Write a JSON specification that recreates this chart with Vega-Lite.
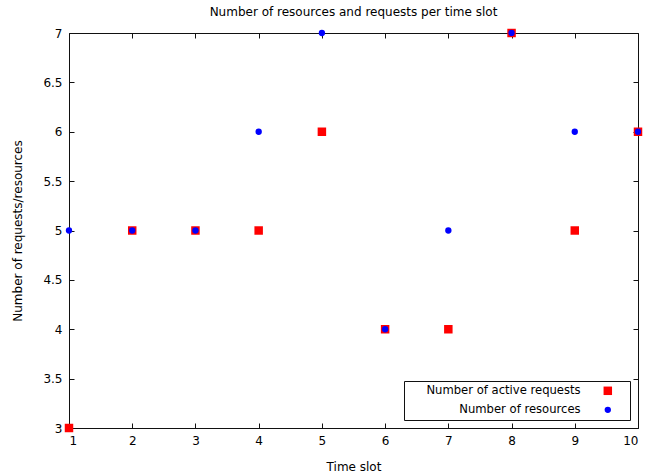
{
  "$schema": "https://vega.github.io/schema/vega-lite/v6.json",
  "autosize": "none",
  "padding": {"left": 69, "top": 33, "right": 23, "bottom": 46},
  "width": 569,
  "height": 395,
  "title": {"text": "Number of resources and requests per time slot", "font": "DejaVu Sans", "fontSize": 12, "fontWeight": "normal", "color": "#000", "anchor": "middle", "offset": 8},
  "config": {
    "view": {"stroke": "#111", "strokeWidth": 1},
    "font": "DejaVu Sans",
    "axis": {"grid": false, "domain": false, "tickColor": "#111", "tickSize": -5, "labelColor": "#000", "labelFont": "DejaVu Sans", "labelFontSize": 12, "titleFont": "DejaVu Sans", "titleFontSize": 12, "titleFontWeight": "normal", "titleColor": "#000"}
  },
  "data": {"values": [
    {"t": 1, "series": "Number of active requests", "v": 3},
    {"t": 2, "series": "Number of active requests", "v": 5},
    {"t": 3, "series": "Number of active requests", "v": 5},
    {"t": 4, "series": "Number of active requests", "v": 5},
    {"t": 5, "series": "Number of active requests", "v": 6},
    {"t": 6, "series": "Number of active requests", "v": 4},
    {"t": 7, "series": "Number of active requests", "v": 4},
    {"t": 8, "series": "Number of active requests", "v": 7},
    {"t": 9, "series": "Number of active requests", "v": 5},
    {"t": 10, "series": "Number of active requests", "v": 6},
    {"t": 1, "series": "Number of resources", "v": 5},
    {"t": 2, "series": "Number of resources", "v": 5},
    {"t": 3, "series": "Number of resources", "v": 5},
    {"t": 4, "series": "Number of resources", "v": 6},
    {"t": 5, "series": "Number of resources", "v": 7},
    {"t": 6, "series": "Number of resources", "v": 4},
    {"t": 7, "series": "Number of resources", "v": 5},
    {"t": 8, "series": "Number of resources", "v": 7},
    {"t": 9, "series": "Number of resources", "v": 6},
    {"t": 10, "series": "Number of resources", "v": 6}
  ]},
  "layer": [
    {
      "mark": {"type": "point", "filled": true, "opacity": 1, "clip": false},
      "encoding": {
        "x": {"field": "t", "type": "quantitative", "scale": {"domain": [1, 10], "nice": false, "zero": false}, "axis": {"values": [1,2,3,4,5,6,7,8,9,10], "title": "Time slot", "labelPadding": 12, "titlePadding": 15}},
        "y": {"field": "v", "type": "quantitative", "scale": {"domain": [3, 7], "nice": false, "zero": false}, "axis": {"values": [3,3.5,4,4.5,5,5.5,6,6.5,7], "format": "~g", "title": "Number of requests/resources", "labelPadding": 12, "titlePadding": 18}},
        "color": {"field": "series", "type": "nominal", "scale": {"domain": ["Number of active requests", "Number of resources"], "range": ["#ff0000", "#0000ff"]},
          "legend": {"title": " ", "titleOrient": "right", "titleFontSize": 1, "titlePadding": 11, "orient": "bottom-right", "offset": 8, "labelAlign": "right", "labelOffset": -33, "symbolOffset": 194, "labelFontSize": 11.6, "labelColor": "#000", "labelFont": "DejaVu Sans", "fillColor": "#fff", "strokeColor": "#111", "padding": 4, "rowPadding": 4, "symbolOpacity": 1, "labelLimit": 300}},
        "shape": {"field": "series", "type": "nominal", "scale": {"domain": ["Number of active requests", "Number of resources"], "range": ["square", "circle"]}},
        "size": {"field": "series", "type": "nominal", "scale": {"domain": ["Number of active requests", "Number of resources"], "range": [72, 40]}, "legend": null},
        "order": {"field": "series", "sort": "ascending"}
      }
    },
    {
      "mark": {"type": "point", "opacity": 0},
      "encoding": {
        "x": {"field": "t", "type": "quantitative", "scale": {"domain": [1, 10], "nice": false, "zero": false}, "axis": {"orient": "top", "values": [1,2,3,4,5,6,7,8,9,10], "labels": false, "title": null}},
        "y": {"field": "v", "type": "quantitative", "scale": {"domain": [3, 7], "nice": false, "zero": false}, "axis": {"orient": "right", "values": [3,3.5,4,4.5,5,5.5,6,6.5,7], "labels": false, "title": null}}
      }
    }
  ],
  "resolve": {"axis": {"x": "independent", "y": "independent"}}
}
